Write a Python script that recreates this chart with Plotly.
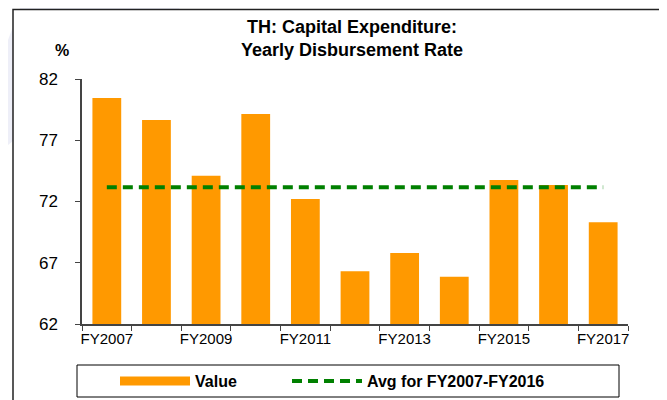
import plotly.graph_objects as go

# data
years = ['FY2007', 'FY2008', 'FY2009', 'FY2010', 'FY2011', 'FY2012',
         'FY2013', 'FY2014', 'FY2015', 'FY2016', 'FY2017']
rate = [80.45, 78.65, 74.1, 79.15, 72.2, 66.3, 67.8, 65.85, 73.75, 73.35, 70.3]
avg_2007_2016 = 73.16

# the page puts the figure 8px in from the corner, so size and place in page pixels
OFF = 8
W, H = 667 - OFF, 400 - OFF
PL, PR, PT, PB = 82, 628, 79, 324  # plot area in page pixels
L, R, T, B = PL - OFF, W - (PR - OFF), PT - OFF, H - (PB - OFF)


def px(x):
    return (x - PL) / (PR - PL)


def py(y):
    return (PB - y) / (PB - PT)


font = "Arial, Liberation Sans, sans-serif"

fig = go.Figure()
fig.add_trace(go.Bar(x=years, y=rate, name='Value', showlegend=False,
                     marker=dict(color='#FF9900', line=dict(width=0))))
# legend swatch for the bars (wide flat patch like the original)
fig.add_trace(go.Scatter(x=[None], y=[None], mode='lines', name='Value',
                         line=dict(color='#FF9900', width=9), legend='legend'))
fig.add_trace(go.Scatter(x=years, y=[avg_2007_2016] * len(years), mode='lines',
                         name='Avg for FY2007-FY2016', legend='legend2',
                         line=dict(color='#008000', width=4, dash='10px,6px')))

shapes = [
    # faint background swoosh
    dict(type='path', xref='paper', yref='paper', layer='below',
         path=f'M {px(20)} {py(8)} L {px(180)} {py(8)} L {px(8)} {py(145)} L {px(8)} {py(40)} Z',
         fillcolor='#EEEFF8', line=dict(width=0)),
    # chart frame
    dict(type='rect', xref='paper', yref='paper', layer='below',
         x0=px(13), x1=px(662), y0=py(410), y1=py(9.5),
         fillcolor='white', line=dict(color='#222222', width=1.5)),
    # legend box
    dict(type='rect', xref='paper', yref='paper',
         x0=px(77), x1=px(619), y0=py(397), y1=py(365),
         line=dict(color='black', width=1)),
]

leg = dict(orientation='h', yanchor='middle', xanchor='left', itemwidth=70,
           font=dict(size=16, weight='bold'), bgcolor='rgba(0,0,0,0)')

fig.update_layout(
    width=W, height=H,
    margin=dict(l=L, r=R, t=T, b=B, autoexpand=False),
    paper_bgcolor='white', plot_bgcolor='white',
    font=dict(family=font, color='black'),
    bargap=0.42,
    shapes=shapes,
    annotations=[
        dict(text='<b>TH: Capital Expenditure:<br>Yearly Disbursement Rate</b>',
             xref='paper', yref='paper', x=px(352), y=py(38), xanchor='center',
             yanchor='middle', showarrow=False, font=dict(size=18)),
        dict(text='<b>%</b>', xref='paper', yref='paper', x=px(62), y=py(51),
             xanchor='center', yanchor='middle', showarrow=False, font=dict(size=16)),
    ],
    legend=dict(leg, x=px(115), y=py(381)),
    legend2=dict(leg, x=px(287), y=py(381)),
)

fig.update_xaxes(type='category', tickson='boundaries', ticks='outside', ticklen=5,
                 ticklabelstep=2, tickangle=0, automargin=False,
                 showline=True, linecolor='#444444', linewidth=1.5,
                 tickcolor='#444444', tickfont=dict(size=15), showgrid=False)
fig.update_yaxes(range=[62, 82], tick0=62, dtick=5, ticks='outside', ticklen=5,
                 ticklabelstandoff=14, automargin=False, showline=True,
                 linecolor='#444444', linewidth=1.5, tickcolor='#444444',
                 tickfont=dict(size=17), showgrid=False, zeroline=False)

fig.write_html("out.html")
